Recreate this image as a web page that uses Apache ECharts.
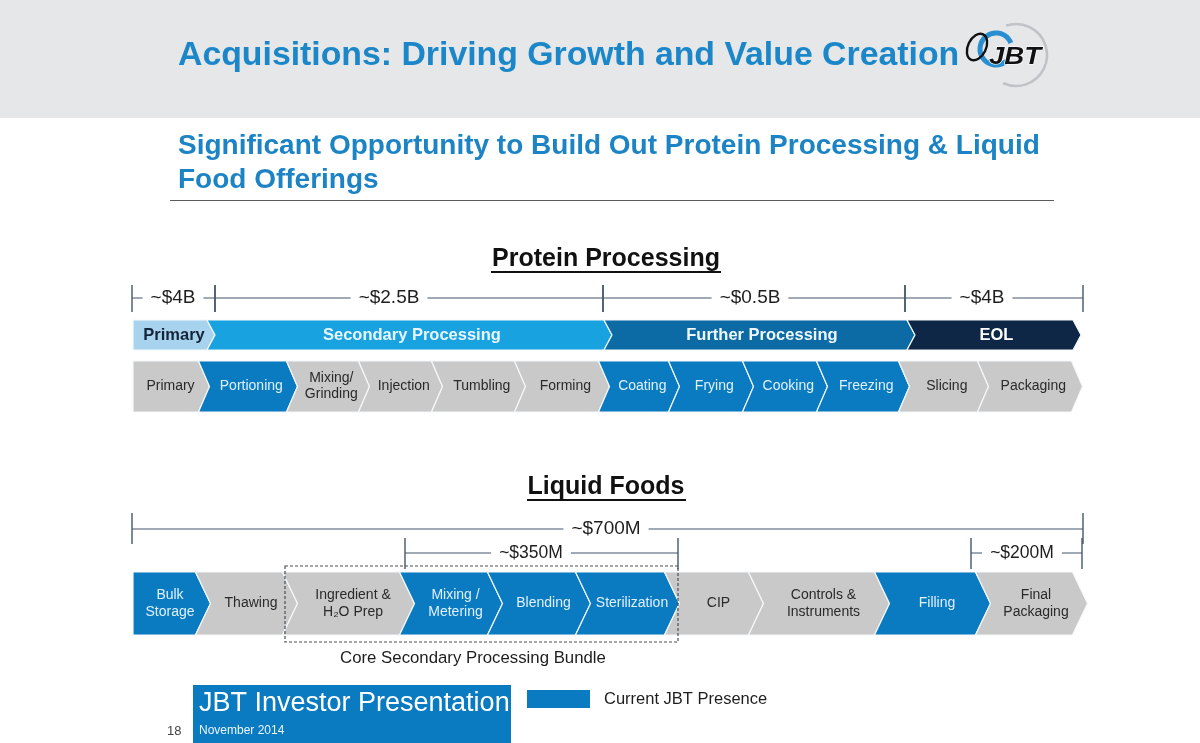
<!DOCTYPE html>
<html><head><meta charset="utf-8">
<script src="https://cdn.jsdelivr.net/npm/echarts@6/dist/echarts.min.js"></script>
<style>html,body{margin:0;padding:0;background:#fff}#c{width:1200px;height:743px}</style>
</head><body><div id="c"></div>
<script>
// ---------- DATA ----------
const proteinTitle = 'Protein Processing';
const proteinSteps = ['Primary','Portioning','Mixing/\nGrinding','Injection','Tumbling','Forming','Coating','Frying','Cooking','Freezing','Slicing','Packaging'];
const proteinStepEnds = [71,159,231,304,387,471,541,615,689,771,850,944];
const proteinStepPresence = [0,1,0,0,0,0,1,1,1,1,0,0];
const proteinPhases = ['Primary','Secondary Processing','Further Processing','EOL'];
const proteinPhaseEnds = [78,475,778,944];
const proteinMarkets = ['~$4B','~$2.5B','~$0.5B','~$4B'];
const proteinMarketBounds = [-1,82,470,772,950];
const proteinMarketLabelAt = [40,256,617,849];

const liquidTitle = 'Liquid Foods';
const liquidSteps = ['Bulk\nStorage','Thawing','Ingredient &\nH\u2082O Prep','Mixing /\nMetering','Blending','Sterilization','CIP','Controls &\nInstruments','Filling','Final\nPackaging'];
const liquidStepEnds = [70,157,274,362,450,539,623,749,850,947];
const liquidStepPresence = [1,0,0,1,1,1,0,0,1,0];
const liquidMarkets = ['~$700M','~$350M','~$200M'];
const liquidMarketRanges = [[-1,950],[272,545],[838,949]];
const liquidMarketLabelAt = [473,398,889];
const bundleLabel = 'Core Secondary Processing Bundle';
const bundleRange = [152,545];
const bundleLabelAt = 340;
const legendLabel = 'Current JBT Presence';

// ---------- STYLE ----------
const FONT = '"Liberation Sans", Arial, sans-serif';
const BLUE = '#0b7bc1', GRAY = '#c9c9c9', LINE = '#44566b';
const phaseColors = ['#a8d3ef','#18a2e0','#0c6aa4','#0e2747'];
const phaseText = ['#14253a','#e8f6ff','#eef7ff','#ffffff'];

const chart = echarts.init(document.getElementById('c'));

function stepsToData(ends){ return ends.map((e,i)=>[i===0?0:ends[i-1], e]); }

function chevronSeries(labels, ends, fillFn, textFn, top, h, depth, font, lh){
  return {
    type:'custom', coordinateSystem:'cartesian2d', clip:false, silent:true,
    data: stepsToData(ends),
    renderItem(params, api){
      const i = params.dataIndex;
      const s = api.coord([api.value(0),0])[0], e = api.coord([api.value(1),0])[0];
      const d = depth/2, bot = top+h, mid = top+h/2;
      const pts = i===0
        ? [[s,top],[e-d,top],[e+d,mid],[e-d,bot],[s,bot]]
        : [[s-d,top],[e-d,top],[e+d,mid],[e-d,bot],[s-d,bot],[s+d,mid]];
      const cx = (s+e)/2 + (i===0 ? 2 : d*0.6);
      return {type:'group', children:[
        {type:'polygon', shape:{points:pts}, style:{fill:fillFn(i), stroke:'#f4f8fb', lineWidth:1.2}},
        {type:'text', style:{text:labels[i], x:cx, y:mid, align:'center', verticalAlign:'middle',
          font:font, fill:textFn(i), lineHeight:lh}}
      ]};
    }
  };
}

function dimSeries(labels, ranges, labelAt, specs){
  return {
    type:'custom', coordinateSystem:'cartesian2d', clip:false, silent:true,
    data: ranges.map((r,i)=>[r[0], r[1], labelAt[i]]),
    renderItem(params, api){
      const i = params.dataIndex, sp = specs(i);
      const s = api.coord([api.value(0),0])[0], e = api.coord([api.value(1),0])[0];
      const lx = api.coord([api.value(2),0])[0];
      return {type:'group', children:[
        {type:'line', shape:{x1:s,y1:sp.y,x2:e,y2:sp.y}, style:{stroke:LINE,lineWidth:1.2}},
        {type:'line', shape:{x1:s,y1:sp.t0,x2:s,y2:sp.t1}, style:{stroke:LINE,lineWidth:1.4}},
        {type:'line', shape:{x1:e,y1:sp.t0,x2:e,y2:sp.t1}, style:{stroke:LINE,lineWidth:1.4}},
        {type:'text', style:{text:labels[i], x:lx, y:sp.y, align:'center', verticalAlign:'middle',
          font:sp.font, fill:'#1e1e1e', backgroundColor:'#fff', padding:[0,8]}}
      ]};
    }
  };
}

const proteinMarketRanges = proteinMarkets.map((m,i)=>[proteinMarketBounds[i], proteinMarketBounds[i+1]]);

const series = [
  dimSeries(proteinMarkets, proteinMarketRanges, proteinMarketLabelAt, ()=>({y:298,t0:285,t1:312,font:'19px '+FONT})),
  chevronSeries(proteinPhases, proteinPhaseEnds, i=>phaseColors[i], i=>phaseText[i], 320, 30, 8, 'bold 16.5px '+FONT, 18),
  chevronSeries(proteinSteps, proteinStepEnds, i=>proteinStepPresence[i]?BLUE:GRAY,
    i=>proteinStepPresence[i]?'#dff1ff':'#2a2a2a', 361, 51, 11, '14px '+FONT, 16),
  dimSeries(liquidMarkets, liquidMarketRanges, liquidMarketLabelAt, i=> i===0 ? {y:529,t0:513,t1:544,font:'19px '+FONT}
                                                        : {y:553,t0:538,t1:569,font:'17.5px '+FONT}),
  chevronSeries(liquidSteps, liquidStepEnds, i=>liquidStepPresence[i]?BLUE:GRAY,
    i=>liquidStepPresence[i]?'#dff1ff':'#2a2a2a', 572, 63, 15, '14px '+FONT, 17),
  {
    type:'custom', coordinateSystem:'cartesian2d', clip:false, silent:true, data:[[bundleRange[0], bundleRange[1], bundleLabelAt]],
    renderItem(params, api){
      const s = api.coord([api.value(0),0])[0], e = api.coord([api.value(1),0])[0];
      const lx = api.coord([api.value(2),0])[0];
      return {type:'group', children:[
        {type:'rect', shape:{x:s,y:566,width:e-s,height:76}, style:{fill:'none',stroke:'#4a4f57',lineWidth:1.2,lineDash:[3,2]}},
        {type:'text', style:{text:bundleLabel, x:lx, y:658, align:'center', verticalAlign:'middle', font:'16.8px '+FONT, fill:'#1e1e1e'}}
      ]};
    }
  }
];

const graphic = [
  {type:'rect', shape:{x:0,y:0,width:1200,height:118}, style:{fill:'#e6e7e9'}, z:-1},
  {type:'text', x:178, y:56, style:{text:'Acquisitions: Driving Growth and Value Creation', font:'bold 33.8px '+FONT, fill:'#1b87c8', verticalAlign:'middle'}},
  // logo
  {type:'arc', shape:{cx:1016,cy:55,r:31,startAngle:-1.9,endAngle:2.0}, style:{stroke:'#bfc2c6',lineWidth:2.5,fill:'none'}},
  {type:'arc', shape:{cx:996,cy:49,r:16,startAngle:0.9,endAngle:5.9}, style:{stroke:'#2a8fd0',lineWidth:5,fill:'none'}},
  {type:'ellipse', shape:{cx:977,cy:47,rx:9,ry:14}, rotation:-0.45, originX:977, originY:47, style:{stroke:'#111',lineWidth:2.4,fill:'none'}},
  {type:'text', x:989, y:57, scaleX:1.15, originX:0, originY:0, style:{text:'JBT', font:'italic bold 24px '+FONT, fill:'#111', stroke:'#fff', lineWidth:1.2, verticalAlign:'middle'}},
  {type:'text', x:178, y:146, style:{text:'Significant Opportunity to Build Out Protein Processing & Liquid', font:'bold 28px '+FONT, fill:'#1c84c4', verticalAlign:'middle'}},
  {type:'text', x:178, y:180, style:{text:'Food Offerings', font:'bold 28px '+FONT, fill:'#1c84c4', verticalAlign:'middle'}},
  {type:'line', shape:{x1:170,y1:200.5,x2:1054,y2:200.5}, style:{stroke:'#5b5b5b',lineWidth:1}},
  {type:'text', x:606, y:259, style:{text:proteinTitle, font:'bold 25px '+FONT, fill:'#111', align:'center', verticalAlign:'middle'}},
  {type:'line', shape:{x1:491,y1:272,x2:721,y2:272}, style:{stroke:'#111',lineWidth:2}},
  {type:'text', x:606, y:487, style:{text:liquidTitle, font:'bold 25px '+FONT, fill:'#111', align:'center', verticalAlign:'middle'}},
  {type:'line', shape:{x1:527,y1:500,x2:686,y2:500}, style:{stroke:'#111',lineWidth:2}},
  // footer
  {type:'rect', shape:{x:193,y:685,width:318,height:58}, style:{fill:BLUE}},
  {type:'text', x:199, y:704, style:{text:'JBT Investor Presentation', font:'27px '+FONT, fill:'#fff', verticalAlign:'middle'}},
  {type:'text', x:199, y:731, style:{text:'November 2014', font:'12px '+FONT, fill:'#eaf5ff', verticalAlign:'middle'}},
  {type:'text', x:167, y:731, style:{text:'18', font:'13px '+FONT, fill:'#444', verticalAlign:'middle'}},
  {type:'rect', shape:{x:527,y:690,width:63,height:18}, style:{fill:BLUE}},
  {type:'text', x:604, y:699, style:{text:legendLabel, font:'16.5px '+FONT, fill:'#1e1e1e', verticalAlign:'middle'}}
];

chart.setOption({
  animation:false,
  backgroundColor:'#ffffff',
  grid:{left:123, width:970, top:0, height:743},
  xAxis:{type:'value', min:-10, max:960, show:false},
  yAxis:{type:'value', min:0, max:1, show:false},
  graphic: graphic,
  series: series
});
</script>
</body></html>
